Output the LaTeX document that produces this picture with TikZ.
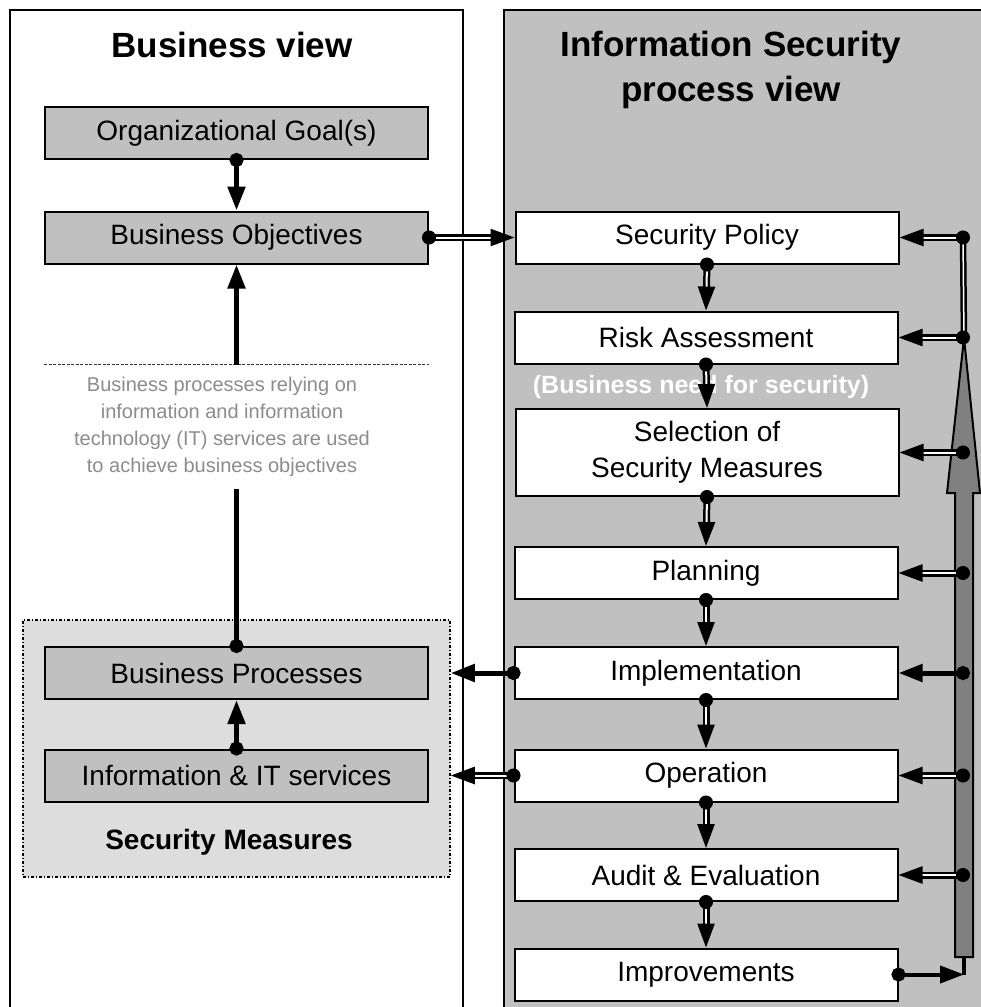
\documentclass[tikz,border=0pt]{standalone}
\usepackage{fontspec}
\setmainfont{Liberation Sans}
\usetikzlibrary{arrows.meta,positioning,calc}
\definecolor{panel}{HTML}{C0C0C0}
\definecolor{meas}{HTML}{DDDDDD}
\definecolor{bigar}{HTML}{808080}
\definecolor{notec}{HTML}{8C8C8C}
\tikzset{
  dotend/.tip={Circle[length=14pt]},
  headend/.tip={Triangle[length=24pt,width=17pt]},
  gbox/.style={draw,line width=2pt,fill=panel,minimum width=383pt,minimum height=52pt,inner sep=0pt,align=center,font=\fontsize{28}{36}\selectfont},
  wbox/.style={gbox,fill=white},
  title/.style={align=center,font=\fontsize{35}{45}\selectfont\bfseries},
  measbox/.style={draw,line width=1.5pt,dash pattern=on 3pt off 2pt on 1pt off 2pt,fill=meas,inner sep=0pt},
  darr/.style={line width=2.5pt,double=white,double distance=2pt,dotend-headend,shorten <=-7pt},
  sarr/.style={line width=5pt,dotend-headend,shorten <=-7pt},
}

\begin{document}
\begin{tikzpicture}[x=1pt,y=-1pt]
  \useasboundingbox (0,0) rectangle (981,1007);
  \clip (0,0) rectangle (981,1007);
  \draw[line width=2pt,fill=white] (10,10) rectangle (463,1040);
  \draw[line width=2pt,fill=panel] (504,10) rectangle (1000,1040);

  \node[title] (bvt) at (232,45) {Business view};
  \node[title] (ist) at (731,70) {Information Security\\process view};

  \node[gbox] (og) at (236.5,133) {Organizational Goal(s)};
  \node[gbox] (bo) at (236.5,237.5) {Business Objectives};
  \node[measbox,minimum width=427pt,minimum height=257pt] (sm) at (236.5,748.5) {};
  \node[gbox] (bp) at (236.5,673) {Business Processes};
  \node[gbox] (it) at (236.5,775.5) {Information \& IT services};
  \node[font=\fontsize{28}{34}\selectfont\bfseries] (smt) at (229,842) {Security Measures};
  \node[align=center,inner sep=0pt,minimum height=124pt,text=notec,font=\fontsize{20}{27}\selectfont] (why) at (222,427)
       {Business processes relying on\\information and information\\technology (IT) services are used\\to achieve business objectives};
  \draw[line width=1pt,dash pattern=on 3pt off 1.5pt,draw=black!80] (why.north -| bo.west) -- (why.north -| bo.east);

  \node[wbox] (sp) at (707,237.5) {Security Policy};
  \node[wbox] (ra) at (706,337.5) {Risk Assessment};
  \node[wbox,minimum height=87pt] (sel) at (707,452.5) {Selection of\\Security Measures};
  \node[wbox] (plan) at (706,573) {Planning};
  \node[wbox] (impl) at (706,673) {Implementation};
  \node[wbox] (op) at (706,775.5) {Operation};
  \node[wbox] (aud) at (706,875) {Audit \& Evaluation};
  \node[wbox] (imp) at (706,974.5) {Improvements};
  \node[text=white,font=\fontsize{25}{30}\selectfont\bfseries] (need) at (701,387) {(Business need for security)};

  \coordinate (spine) at (963,0);
  \coordinate (tip) at (964,338);
  \coordinate (tail) at (964,957);
  \draw[line width=2pt,fill=bigar] (955,957) -- (955,493) -- (947,493) -- (tip) -- (980,493) -- (973,493) -- (973,957) -- cycle;
  \draw[line width=2.5pt,double=white,double distance=1.5pt] (sp.east -| spine) -- (tip);
  \draw[line width=4pt] (tail) -- (imp.east -| tail);

  \draw[sarr] (og.south) -- (bo.north);
  \draw[sarr] (it.north) -- (bp.south);
  \draw[sarr,dotend-] (bp.north) -- (why.south -| bp.north);
  \draw[sarr,-headend,shorten <=0pt] (why.north -| bo.south) -- (bo.south);
  \draw[darr] (bo.east) -- (sp.west);
  \draw[sarr] (impl.west) -- (impl.west -| sm.east);
  \draw[darr] (op.west) -- (op.west -| sm.east);

  \foreach \a/\b in {sp/ra,ra/sel,sel/plan,plan/impl,impl/op,op/aud,aud/imp}
    \draw[darr] (\a.south) -- (\b.north);
  \foreach \b/\s in {sp/darr,ra/darr,sel/darr,plan/darr,impl/sarr,op/darr,aud/darr}
    \draw[\s] (\b.east -| spine) -- (\b.east);
  \draw[sarr,line width=4pt] (imp.east) -- (imp.east -| tail);
\end{tikzpicture}
\end{document}
